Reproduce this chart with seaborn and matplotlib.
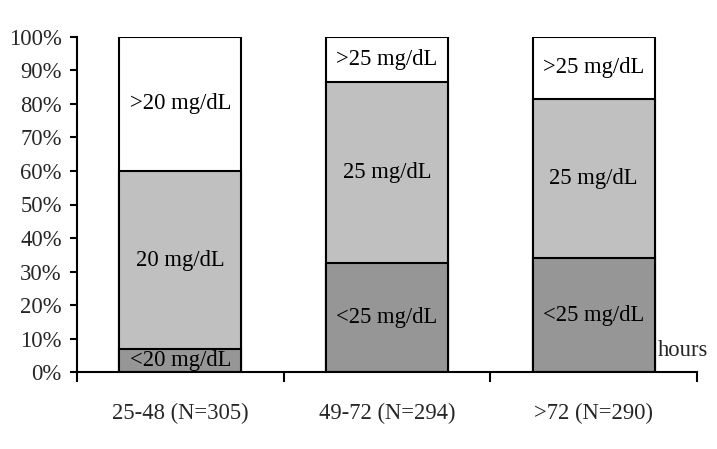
import matplotlib
matplotlib.use("Agg")
import matplotlib.pyplot as plt
import seaborn as sns
import pandas as pd
import numpy as np

categories = ["25-48 (N=305)", "49-72 (N=294)", ">72 (N=290)"]
low_vals = [6.9, 32.7, 34.1]
mid_vals = [53.1, 53.7, 47.3]
high_vals = [40.0, 13.6, 18.6]
low_labels = ["<20 mg/dL", "<25 mg/dL", "<25 mg/dL"]
mid_labels = ["20 mg/dL", "25 mg/dL", "25 mg/dL"]
high_labels = [">20 mg/dL", ">25 mg/dL", ">25 mg/dL"]
ytick_labels = [f"{v}%" for v in range(0, 101, 10)]

sns.set_theme(style="white")
plt.rcParams['font.family'] = ['Liberation Serif', 'DejaVu Serif']
FS = 16.3

df = pd.DataFrame({"cat": categories, "low": low_vals, "mid": mid_vals, "high": high_vals})
df["c_low"] = df["low"]
df["c_mid"] = df["low"] + df["mid"]
df["c_high"] = df["low"] + df["mid"] + df["high"]

fig = plt.figure(figsize=(7.17, 4.49), dpi=100)
ax = fig.add_axes([77/717, 1-372.3/449, 620/717, 335.6/449])

for col, color in [("c_high", "#ffffff"), ("c_mid", "#c0c0c0"), ("c_low", "#969696")]:
    sns.barplot(data=df, x="cat", y=col, color=color, width=0.59, edgecolor="black",
                linewidth=1.5, saturation=1, ax=ax, errorbar=None)

for i in range(len(categories)):
    lo, mi, hi = df.loc[i, "c_low"], df.loc[i, "c_mid"], df.loc[i, "c_high"]
    ax.text(i, lo/2, low_labels[i], ha="center", va="center", fontsize=FS, color="black")
    ax.text(i, (lo+mi)/2, mid_labels[i], ha="center", va="center", fontsize=FS, color="black")
    ax.text(i, (mi+hi)/2, high_labels[i], ha="center", va="center", fontsize=FS, color="black")

ax.set_xlim(-0.5, 2.5)
ax.set_ylim(0, 100)
ax.set_yticks(range(0, 101, 10))
ax.set_yticklabels(ytick_labels, fontsize=FS)
ax.set_xticks([-0.5, 0.5, 1.5, 2.5])
ax.set_xticklabels([])
ax.set_xticks([0, 1, 2], minor=True)
ax.set_xticklabels(categories, minor=True, fontsize=FS)
ax.tick_params(axis="x", which="major", direction="out", length=7, width=1.5, color="black", bottom=True)
ax.tick_params(axis="x", which="minor", length=0, pad=22, bottom=True)
ax.tick_params(axis="y", direction="out", length=5, width=1.5, color="black", left=True, pad=6)
ax.set_xlabel("")
ax.set_ylabel("")
for s in ["top", "right"]:
    ax.spines[s].set_visible(False)
for s in ["left", "bottom"]:
    ax.spines[s].set_color("black")
    ax.spines[s].set_linewidth(1.5)
ax.text(0.937, 0.066, "hours", transform=ax.transAxes, ha="left", va="center", fontsize=FS)

fig.savefig("out.png", dpi=100)
